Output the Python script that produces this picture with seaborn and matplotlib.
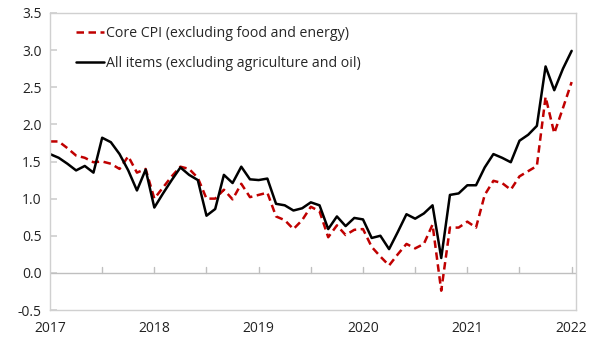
import matplotlib
matplotlib.use("Agg")
import matplotlib.pyplot as plt
import seaborn as sns
import numpy as np
import pandas as pd

core_cpi = [1.77, 1.77, 1.68, 1.58, 1.55, 1.49, 1.50, 1.47, 1.40, 1.57, 1.35, 1.40,
            1.00, 1.15, 1.30, 1.43, 1.40, 1.28, 1.00, 1.00, 1.12, 0.99, 1.20, 1.02,
            1.05, 1.08, 0.76, 0.71, 0.59, 0.71, 0.89, 0.83, 0.48, 0.64, 0.51, 0.58,
            0.59, 0.35, 0.22, 0.10, 0.25, 0.39, 0.33, 0.39, 0.65, -0.24, 0.61, 0.61,
            0.69, 0.61, 1.05, 1.24, 1.21, 1.12, 1.30, 1.37, 1.44, 2.37, 1.88, 2.22,
            2.57]
all_items = [1.60, 1.55, 1.47, 1.38, 1.44, 1.35, 1.82, 1.76, 1.60, 1.38, 1.11, 1.39,
             0.88, 1.07, 1.25, 1.42, 1.32, 1.25, 0.77, 0.86, 1.32, 1.21, 1.43, 1.26,
             1.25, 1.27, 0.93, 0.91, 0.84, 0.87, 0.95, 0.91, 0.59, 0.76, 0.63, 0.74,
             0.72, 0.47, 0.50, 0.32, 0.55, 0.79, 0.73, 0.80, 0.91, 0.20, 1.05, 1.07,
             1.18, 1.18, 1.42, 1.60, 1.55, 1.49, 1.78, 1.86, 1.98, 2.78, 2.46, 2.75,
             2.99]
year_labels = ["2017", "2018", "2019", "2020", "2021", "2022"]
series_names = ["Core CPI (excluding food and energy)",
                "All items (excluding agriculture and oil)"]

months = np.arange(len(core_cpi))
df = pd.DataFrame({"month": months, "core": core_cpi, "all": all_items})

sns.set_theme(style="white")
plt.rcParams["font.family"] = ["Open Sans", "DejaVu Sans"]
plt.rcParams["axes.unicode_minus"] = False

fig = plt.figure(figsize=(5.89, 3.39), dpi=100)
ax = fig.add_axes([50/589, 1-310/339, 526/589, 297/339])

sns.lineplot(data=df, x="month", y="core", ax=ax, color="#C00000",
             linewidth=1.8, label=series_names[0])
ax.lines[-1].set_dashes([3.0, 1.8])
sns.lineplot(data=df, x="month", y="all", ax=ax, color="black",
             linewidth=1.8, label=series_names[1])

ax.set_xlim(0, 60.5)
ax.set_ylim(-0.5, 3.5)
ax.set_yticks(np.arange(-0.5, 3.51, 0.5))
ax.set_yticklabels([f"{v:.1f}" for v in np.arange(-0.5, 3.51, 0.5)])
ax.set_xlabel("")
ax.set_ylabel("")

ax.axhline(0, color="#bfbfbf", linewidth=1.0, zorder=1)
for s in ax.spines.values():
    s.set_color("#d0d0d0")
    s.set_linewidth(1.0)

ax.set_xticks(np.arange(0, 61, 12))
ax.set_xticklabels(year_labels)
ax.tick_params(axis="x", length=0, pad=8, labelsize=10, colors="#222222")
# half-year tick marks on the zero line
for t in np.arange(6, 61, 6):
    ax.plot([t, t], [0, 0.08], color="#bfbfbf", linewidth=1.0, zorder=1)
ax.tick_params(axis="y", direction="in", length=5, color="#d0d0d0",
               labelsize=10, pad=6, left=True, labelcolor="#222222")

leg = ax.legend(loc="upper left", frameon=False, fontsize=10.2,
                handlelength=2.0, handletextpad=0.1, borderaxespad=0.5,
                labelspacing=1.1, bbox_to_anchor=(0.025, 1.0))

fig.savefig("out.png", dpi=100)
